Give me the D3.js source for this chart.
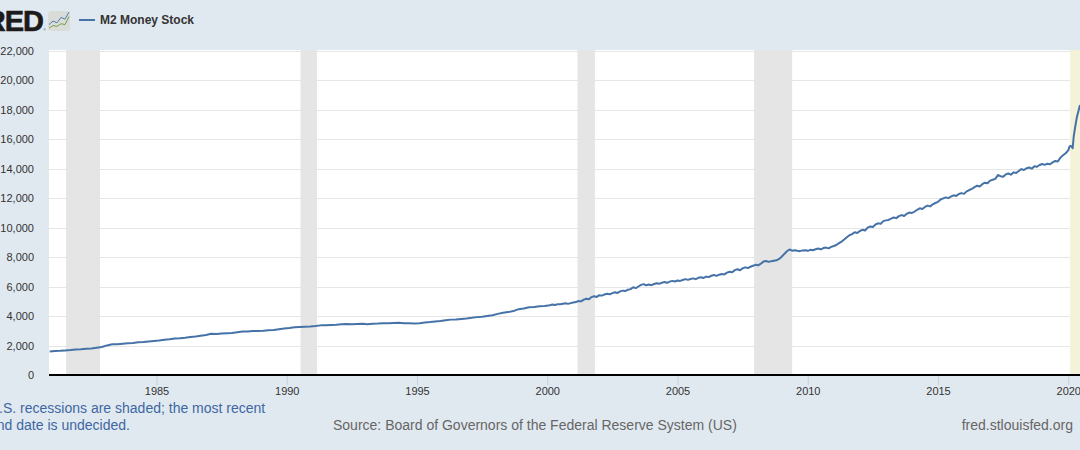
<!DOCTYPE html>
<html>
<head>
<meta charset="utf-8">
<script src="https://d3js.org/d3.v7.min.js"></script>
<style>
  html, body { margin: 0; padding: 0; background: #e1e9f0; overflow: hidden; }
  svg { display: block; font-family: "Liberation Sans", Arial, sans-serif; }
</style>
</head>
<body>
<svg id="chart" width="1080" height="450"></svg>
<script>
const seriesName = "M2 Money Stock";
const yTicks = [0, 2000, 4000, 6000, 8000, 10000, 12000, 14000, 16000, 18000, 20000, 22000];
const xTicks = [1985, 1990, 1995, 2000, 2005, 2010, 2015, 2020];
const recessions = [[1981.53, 1982.83], [1990.53, 1991.16], [2001.16, 2001.83], [2007.94, 2009.4]];
const undecided = [2020.07, 2020.5];

// values, billions of dollars
// 1980.9 to 1999.9, one value every 0.2 years
const m2Early = [
  1600, 1625, 1640, 1670, 1690, 1725,
  1745, 1785, 1800, 1850, 1900,
  2010, 2085, 2095, 2125, 2150,
  2180, 2225, 2240, 2280, 2315,
  2345, 2395, 2430, 2480, 2500,
  2530, 2585, 2620, 2670, 2720,
  2800, 2785, 2820, 2835, 2850,
  2900, 2950, 2960, 2990, 2995,
  3010, 3040, 3060, 3110, 3150,
  3190, 3240, 3260, 3280, 3300,
  3330, 3370, 3385, 3400, 3415,
  3440, 3470, 3450, 3470, 3480,
  3440, 3480, 3490, 3510, 3510,
  3530, 3540, 3515, 3520, 3505,
  3510, 3570, 3600, 3640, 3660,
  3710, 3760, 3770, 3810, 3840,
  3880, 3930, 3960, 4010, 4060,
  4150, 4220, 4270, 4340, 4470,
  4510, 4600, 4620, 4670, 4690
];
// 2000.1 to 2020.0, one value every 0.1 years
const m2Late = [
  4740, 4790, 4750, 4810, 4800, 4840, 4870, 4830, 4880, 4920,
  4950, 5030, 5000, 5120, 5180, 5140, 5290, 5350, 5300, 5420,
  5390, 5470, 5520, 5480, 5560, 5620, 5570, 5680, 5730, 5700,
  5790, 5830, 5960, 5900, 6010, 6120, 6170, 6090, 6140, 6100,
  6180, 6230, 6190, 6270, 6310, 6260, 6340, 6390, 6350, 6420,
  6390, 6450, 6510, 6460, 6520, 6560, 6510, 6600, 6640, 6590,
  6680, 6650, 6740, 6790, 6730, 6810, 6860, 6830, 6950, 7010,
  6980, 7120, 7180, 7110, 7240, 7310, 7260, 7350, 7420, 7480,
  7450, 7560, 7700, 7740, 7680, 7730, 7760, 7790, 7880, 8030,
  8220, 8400, 8520, 8440, 8470, 8430, 8410, 8460, 8470, 8430,
  8500, 8470, 8540, 8590, 8530, 8620, 8650, 8600, 8700, 8760,
  8830, 8950, 9060, 9200, 9350, 9490, 9570, 9690, 9640, 9780,
  9860, 9810, 10010, 10090, 10050, 10220, 10300, 10260, 10450, 10500,
  10530, 10620, 10700, 10650, 10790, 10860, 10800, 10950, 11030, 11000,
  11100, 11220, 11320, 11270, 11410, 11500, 11450, 11590, 11680, 11760,
  11920, 11990, 12060, 12010, 12120, 12200, 12160, 12290, 12350, 12300,
  12470, 12560, 12640, 12760, 12850, 12800, 12960, 13060, 13020, 13200,
  13260, 13320, 13580, 13500, 13460, 13620, 13680, 13600, 13760, 13720,
  13850, 13980, 13920, 14040, 14090, 14010, 14180, 14140, 14260, 14330,
  14270, 14350, 14310, 14440, 14530, 14500, 14760, 14920, 15060, 15250
];
// the 2020 jump
const tailYears = [2020.05, 2020.1, 2020.14, 2020.17, 2020.21, 2020.26, 2020.33, 2020.45];
const tailValues = [15520, 15560, 15480, 15400, 16200, 16770, 17500, 18330];

const width = 1080, height = 450;
const margin = { top: 50, right: 0, bottom: 75, left: 49 };

const svg = d3.select("#chart");

const xScale = d3.scaleLinear()
  .domain([1985 - (156.5 - margin.left) / 26.05, 1985 + (width - 156.5) / 26.05])
  .range([margin.left, width]);
const yScale = d3.scaleLinear().domain([0, 22000]).range([375, 51]);

// header
svg.append("text").attr("x", 43).attr("y", 31).attr("text-anchor", "end")
  .attr("font-size", 29).attr("font-weight", "bold").attr("fill", "#1d1a1a")
  .attr("stroke", "#1d1a1a").attr("stroke-width", 0.6).attr("letter-spacing", -1).text("FRED");
svg.append("text").attr("x", 43.5).attr("y", 31).attr("font-size", 3).attr("fill", "#1d1a1a").text("®");

const icon = svg.append("g").attr("transform", "translate(48,11)");
icon.append("rect").attr("width", 22).attr("height", 20).attr("rx", 3).attr("fill", "#d9dcd8");
const iconX = d3.scaleLinear().domain([0, 5]).range([1, 21]);
const iconY = d3.scaleLinear().domain([0, 10]).range([19, 1]);
const iconLine = d3.line().x((d, i) => iconX(i)).y((d) => iconY(d));
icon.append("path").attr("d", iconLine([3, 5, 4, 7, 6, 10])).attr("fill", "none").attr("stroke", "#4572a7").attr("stroke-width", 0.9);
icon.append("path").attr("d", iconLine([1, 2.5, 2, 3.5, 3, 7.5])).attr("fill", "none").attr("stroke", "#6b9a3a").attr("stroke-width", 0.9);

svg.append("line").attr("x1", 79).attr("x2", 95).attr("y1", 20).attr("y2", 20).attr("stroke", "#4572a7").attr("stroke-width", 2);
svg.append("text").attr("x", 100).attr("y", 24).attr("font-size", 12).attr("font-weight", "bold").attr("fill", "#333").text(seriesName);

// plot background
svg.append("rect").attr("x", margin.left).attr("y", margin.top).attr("width", width - margin.left).attr("height", 375 - margin.top).attr("fill", "#fff");

// gridlines
svg.append("g").selectAll("line").data(yTicks.filter((d) => d > 0)).join("line")
  .attr("x1", margin.left).attr("x2", width)
  .attr("y1", (d) => Math.round(yScale(d)) + 0.5).attr("y2", (d) => Math.round(yScale(d)) + 0.5)
  .attr("stroke", "#e6e6e6");

// recession bars
svg.append("g").selectAll("rect").data(recessions).join("rect")
  .attr("x", (d) => xScale(d[0])).attr("width", (d) => xScale(d[1]) - xScale(d[0]))
  .attr("y", margin.top).attr("height", 375 - margin.top).attr("fill", "#e5e5e5");
svg.append("rect").attr("x", xScale(undecided[0])).attr("width", xScale(undecided[1]) - xScale(undecided[0]))
  .attr("y", margin.top).attr("height", 375 - margin.top).attr("fill", "#f4f3da");

// axes
const yAxis = d3.axisLeft(yScale).tickValues(yTicks).tickSize(0).tickPadding(15).tickFormat(d3.format(","));
const gy = svg.append("g").attr("transform", `translate(${margin.left},0)`).call(yAxis);
gy.select(".domain").remove();
gy.selectAll("text").attr("font-size", 11).attr("fill", "#333").attr("font-family", "Liberation Sans");

const xAxis = d3.axisBottom(xScale).tickValues(xTicks).tickSize(10).tickPadding(2).tickFormat(d3.format("d"));
const gx = svg.append("g").attr("transform", "translate(0,375)").call(xAxis);
gx.select(".domain").remove();
gx.selectAll("line").attr("stroke", "#c0d0e0");
gx.selectAll("text").attr("font-size", 11).attr("fill", "#333").attr("font-family", "Liberation Sans");

// series
const points = [
  ...m2Early.map((v, i) => [1980.9 + i * 0.2, v]),
  ...m2Late.map((v, i) => [2000.1 + i * 0.1, v]),
  ...tailValues.map((v, i) => [tailYears[i], v])
];
const line = d3.line().x((d) => xScale(d[0])).y((d) => yScale(d[1]));
svg.append("path").datum(points).attr("fill", "none").attr("stroke", "#4572a7")
  .attr("stroke-width", 2).attr("stroke-linejoin", "round").attr("d", line);

svg.append("line").attr("x1", margin.left).attr("x2", width).attr("y1", 375).attr("y2", 375).attr("stroke", "#000").attr("stroke-width", 2);

// footer
const note = svg.append("g").attr("font-size", 14).attr("fill", "#3d67a3");
note.append("text").attr("x", -11).attr("y", 413).text("U.S. recessions are shaded; the most recent");
note.append("text").attr("x", -11).attr("y", 430).text("end date is undecided.");
svg.append("text").attr("x", 333).attr("y", 430).attr("font-size", 14).attr("fill", "#666").text("Source: Board of Governors of the Federal Reserve System (US)");
svg.append("text").attr("x", 1073).attr("y", 430).attr("text-anchor", "end").attr("font-size", 14).attr("fill", "#666").text("fred.stlouisfed.org");
</script>
</body>
</html>
